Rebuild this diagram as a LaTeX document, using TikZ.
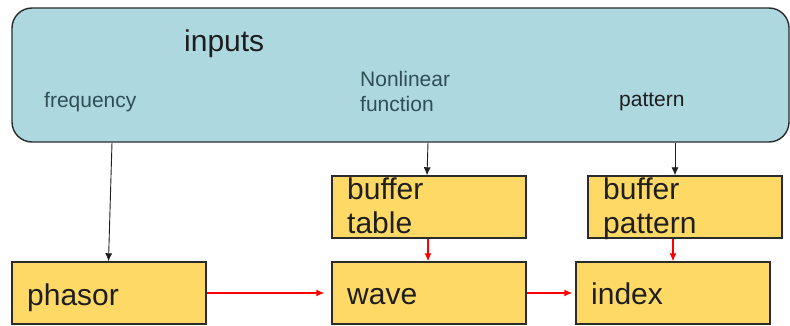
\documentclass[tikz,border=0pt]{standalone}
\usepackage{fontspec}
\setmainfont{Liberation Sans}
\usetikzlibrary{arrows.meta,calc}
\definecolor{boxyellow}{HTML}{FFD966}
\definecolor{inblue}{HTML}{ADD8E0}
\definecolor{edgegray}{HTML}{2B2B2B}
\definecolor{labelslate}{HTML}{2F4E55}
\definecolor{labeldark}{HTML}{1E1E1E}
\tikzset{
  ybox/.style={draw=edgegray, line width=1.4pt, fill=boxyellow, rectangle, inner sep=0pt, minimum width=194pt},
  inbox/.style={draw=edgegray, line width=1.4pt, fill=inblue, rectangle, rounded corners=20pt, inner sep=0pt},
  bigtext/.style={anchor=base west, inner sep=0pt, font=\fontsize{30pt}{34pt}\selectfont, text=labeldark, align=left},
  smalltext/.style={anchor=base west, inner sep=0pt, font=\fontsize{21pt}{25pt}\selectfont, align=left},
  blackarrow/.style={draw=labeldark, line width=0.9pt, -{Latex[length=8pt,width=7pt]}},
  redarrow/.style={draw=red, line width=1.2pt, -{Latex[length=8pt,width=7pt]}}
}
\begin{document}
\begin{tikzpicture}[x=1pt,y=-1pt]
\useasboundingbox (0,0) rectangle (790,326);
% inputs container
\node[inbox, minimum width=777pt, minimum height=134pt] (inputs) at (400.5,75) {};
\node[bigtext] (inputslbl) at (184,52) {inputs};
\node[smalltext, text=labelslate] (freq) at (44,108) {frequency};
\node[smalltext, text=labelslate] (nonlin) at (360,87) {Nonlinear};
\node[smalltext, text=labelslate] (nonlinb) at (360,112) {function};
\node[smalltext, text=labeldark] (patt) at (619,107) {pattern};
% boxes
\node[ybox, minimum height=62pt] (btable) at (429,207) {};
\node[ybox, minimum height=62pt] (bpattern) at (685,207) {};
\node[ybox, minimum height=62pt] (phasor) at (109,293) {};
\node[ybox, minimum height=62pt] (wave) at (429,293) {};
\node[ybox, minimum height=62pt] (index) at (673,293) {};
% box texts
\node[bigtext] (btablea) at (347,199) {buffer};
\node[bigtext] (btableb) at (347,233) {table};
\node[bigtext] (bpatterna) at (603,199) {buffer};
\node[bigtext] (bpatternb) at (603,233) {pattern};
\node[bigtext] (phasorlbl) at (27,305) {phasor};
\node[bigtext] (wavelbl) at (347,304) {wave};
\node[bigtext] (indexlbl) at (591,304) {index};
% black connectors
\draw[blackarrow] ([xshift=3pt]phasor.north |- inputs.south) -- ([xshift=-0.5pt]phasor.north);
\draw[blackarrow] ([xshift=-1pt]btable.north |- inputs.south) -- ([xshift=-2pt]btable.north);
\draw[blackarrow] ([xshift=-10pt]bpattern.north |- inputs.south) -- ([xshift=-10pt]bpattern.north);
% red connectors
\draw[redarrow] ([xshift=-1pt]btable.south) -- ([xshift=-1pt]wave.north);
\draw[redarrow] (index.north |- bpattern.south) -- (index.north);
\draw[redarrow, shorten >=7pt] (phasor.east) -- (wave.west);
\draw[redarrow, shorten >=3pt] (wave.east) -- (index.west);
\end{tikzpicture}
\end{document}
